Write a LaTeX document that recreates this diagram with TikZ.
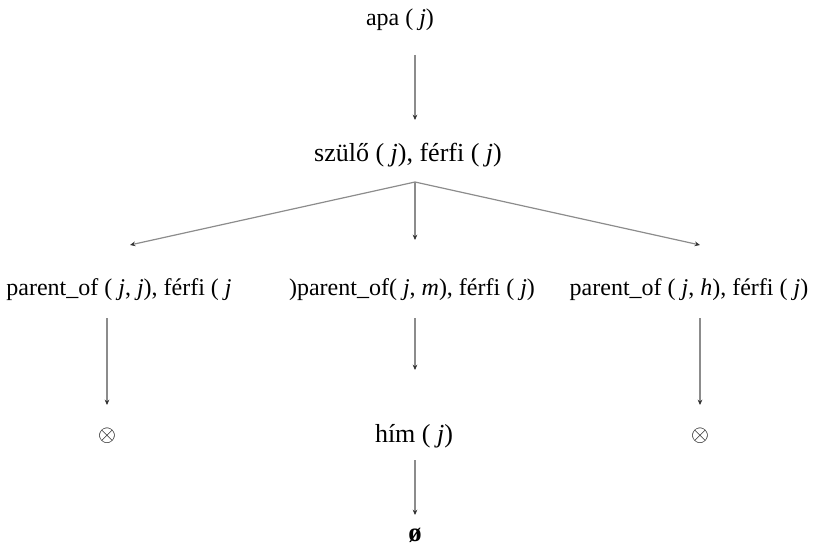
\documentclass[tikz,border=0pt]{standalone}
\usepackage{fontspec}
\setmainfont{Liberation Serif}
\usetikzlibrary{arrows.meta}

\tikzset{
  term/.style={inner sep=1pt, font=\fontsize{18}{22}\selectfont},
  bigterm/.style={term, font=\fontsize{19.5}{23}\selectfont},
  sym/.style={inner sep=1pt, font=\fontsize{17}{20}\selectfont},
  edge/.style={draw=black!45, line width=0.9pt, -{Stealth[length=4pt,width=3.5pt,black!80]}}
}

\begin{document}
\begin{tikzpicture}[x=0.75pt, y=-0.75pt]
\useasboundingbox (0,0) rectangle (813,549);

% Goal and first step
\node[term] (apa) at (400,20) {apa ( \textit{j})};
\node[bigterm] (szulo) at (408,155) {szülő ( \textit{j}), férfi ( \textit{j})};
\coordinate (fork) at (415,182);

% Second level
\node[term] (left) at (119,290) {parent\_of ( \textit{j}, \textit{j}), férfi ( \textit{j}};
\node[term] (mid) at (412,290) {)parent\_of( \textit{j}, \textit{m}), férfi ( \textit{j})};
\node[term] (right) at (689,290) {parent\_of ( \textit{j}, \textit{h}), férfi ( \textit{j})};

% Third level
\node[sym] (fail1) at (107,436) {$\otimes$};
\node[bigterm] (him) at (414,436) {hím ( \textit{j})};
\node[sym] (fail2) at (700,436) {$\otimes$};
\node[inner sep=1pt, font=\fontsize{20}{24}\selectfont] (empty) at (415,535) {\textbf{ø}};

% Arrow end points
\coordinate (a1) at (415,55);   \coordinate (b1) at (415,120);
\coordinate (l1) at (130,245);  \coordinate (m1) at (415,240);
\coordinate (r1) at (700,245);
\coordinate (l2) at (107,318);  \coordinate (l3) at (107,405);
\coordinate (m2) at (415,318);  \coordinate (m3) at (415,370);
\coordinate (r2) at (700,318);  \coordinate (r3) at (700,405);
\coordinate (h1) at (415,460);  \coordinate (h2) at (415,515);

% Arrows
\draw[edge] (a1) -- (b1);
\foreach \t in {l1,m1,r1}
  \draw[edge] (fork) -- (\t);
\draw[edge] (l2) -- (l3);
\draw[edge] (m2) -- (m3);
\draw[edge] (r2) -- (r3);
\draw[edge] (h1) -- (h2);

\end{tikzpicture}
\end{document}
